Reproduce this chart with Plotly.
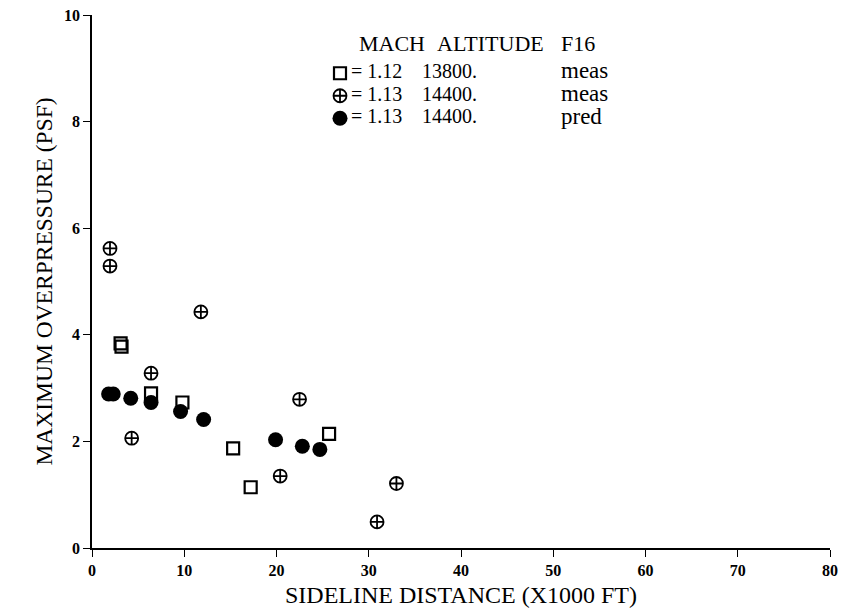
import plotly.graph_objects as go

# Data
sq_x = [3.1, 3.2, 6.4, 9.8, 15.3, 17.2, 25.7]
sq_y = [3.84, 3.78, 2.90, 2.73, 1.87, 1.14, 2.14]

pc_x = [1.95, 1.95, 4.3, 6.4, 11.8, 20.4, 22.5, 30.9, 33.0]
pc_y = [5.62, 5.29, 2.06, 3.28, 4.43, 1.35, 2.79, 0.49, 1.21]

fc_x = [1.8, 2.3, 4.2, 6.4, 9.6, 12.1, 19.9, 22.8, 24.7]
fc_y = [2.89, 2.89, 2.81, 2.73, 2.56, 2.41, 2.03, 1.91, 1.85]

x_ticks = [0, 10, 20, 30, 40, 50, 60, 70, 80]
y_ticks = [0, 2, 4, 6, 8, 10]

# legend table text
legend_header = ["MACH", "ALTITUDE", "F16"]
mach_vals = ["1.12", "1.13", "1.13"]
altitudes = ["13800.", "14400.", "14400."]
kinds = ["meas", "meas", "pred"]

SERIF = "Liberation Serif"
L, T, PW, PH = 92, 15, 738, 533


def px(xp):
    return (xp - L) / PW


def py(yp):
    return (T + PH - yp) / PH


fig = go.Figure()
fig.add_trace(go.Scatter(
    x=sq_x, y=sq_y, mode="markers", name=" ",
    marker=dict(symbol="square-open", size=12, color="black", line=dict(width=2.2, color="black")),
))
fig.add_trace(go.Scatter(
    x=pc_x, y=pc_y, mode="markers", name=" ",
    marker=dict(symbol="circle-cross-open", size=13, color="black", line=dict(width=1.8, color="black")),
))
fig.add_trace(go.Scatter(
    x=fc_x, y=fc_y, mode="markers", name=" ",
    marker=dict(symbol="circle", size=15, color="black"),
))

annotations = []
header_x = [357, 435, 559]
for txt, xp in zip(legend_header, header_x):
    annotations.append(dict(
        text=txt, xref="paper", yref="paper", x=px(xp), y=py(43),
        xanchor="left", yanchor="middle", showarrow=False,
        font=dict(family=SERIF, size=22, color="black"),
    ))
row_y = [71, 93.5, 116]
for i in range(3):
    annotations.append(dict(
        text="= " + mach_vals[i], xref="paper", yref="paper", x=px(349), y=py(row_y[i]),
        xanchor="left", yanchor="middle", showarrow=False,
        font=dict(family=SERIF, size=20, color="black"),
    ))
    annotations.append(dict(
        text=altitudes[i], xref="paper", yref="paper", x=px(420), y=py(row_y[i]),
        xanchor="left", yanchor="middle", showarrow=False,
        font=dict(family=SERIF, size=20, color="black"),
    ))
    annotations.append(dict(
        text=kinds[i], xref="paper", yref="paper", x=px(559), y=py(row_y[i]),
        xanchor="left", yanchor="middle", showarrow=False,
        font=dict(family=SERIF, size=23, color="black"),
    ))

fig.update_layout(
    width=849, height=610,
    margin=dict(l=L, r=19, t=T, b=62),
    plot_bgcolor="white", paper_bgcolor="white",
    font=dict(family=SERIF, color="black", size=18),
    showlegend=True,
    legend=dict(
        x=px(320), y=py(57), xanchor="left", yanchor="top",
        font=dict(family=SERIF, size=15, color="black"),
        bgcolor="rgba(0,0,0,0)", tracegroupgap=0, itemwidth=30,
    ),
    xaxis=dict(
        range=[0, 80], tickvals=x_ticks, ticktext=[str(v) for v in x_ticks],
        showgrid=False, zeroline=False, showline=True, linecolor="black", linewidth=1.5,
        ticks="outside", ticklen=7, tickwidth=1.2, tickcolor="black", automargin=False,
        tickfont=dict(family=SERIF, size=16, color="black", weight="bold"),
        title=dict(text="SIDELINE DISTANCE (X1000 FT)", font=dict(family=SERIF, size=24), standoff=8),
    ),
    yaxis=dict(
        range=[0, 10], tickvals=y_ticks, ticktext=[str(v) for v in y_ticks],
        showgrid=False, zeroline=False, showline=True, linecolor="black", linewidth=1.5,
        ticks="outside", ticklen=7, tickwidth=1.2, tickcolor="black", automargin=False,
        tickfont=dict(family=SERIF, size=16, color="black", weight="bold"),
        title=dict(text="MAXIMUM OVERPRESSURE (PSF)", font=dict(family=SERIF, size=23.5), standoff=5),
    ),
    annotations=annotations,
)

fig.write_html("out.html")
